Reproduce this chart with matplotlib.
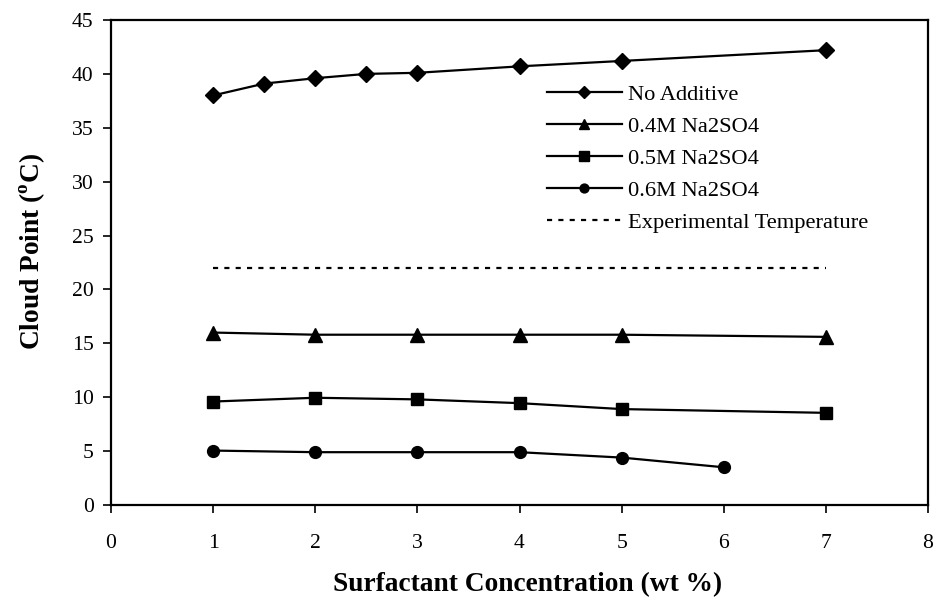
import matplotlib
matplotlib.use("Agg")
import matplotlib.pyplot as plt

plt.rcParams['font.family'] = ['Liberation Serif', 'DejaVu Serif']

# data
x_none = [1, 1.5, 2, 2.5, 3, 4, 5, 7]
y_none = [38.0, 39.1, 39.6, 40.0, 40.1, 40.7, 41.2, 42.2]

x_04 = [1, 2, 3, 4, 5, 7]
y_04 = [16.0, 15.8, 15.8, 15.8, 15.8, 15.6]

x_05 = [1, 2, 3, 4, 5, 7]
y_05 = [9.6, 9.95, 9.8, 9.45, 8.9, 8.55]

x_06 = [1, 2, 3, 4, 5, 6]
y_06 = [5.05, 4.9, 4.9, 4.9, 4.4, 3.5]

x_exp = [1, 7]
y_exp = [22, 22]

fig = plt.figure(figsize=(9.34, 6.04), dpi=100)
# axes box: left 111px, right 928px, top 20px, bottom 505px
ax = fig.add_axes([111 / 934, 1 - 505 / 604, 817 / 934, 485 / 604])

ax.plot(x_none, y_none, 'k-', marker='D', ms=8, lw=1.6, label='No Additive')
ax.plot(x_04, y_04, 'k-', marker='^', ms=9.5, lw=1.6, label='0.4M Na2SO4')
ax.plot(x_05, y_05, 'k-', marker='s', ms=9, lw=1.6, label='0.5M Na2SO4')
ax.plot(x_06, y_06, 'k-', marker='o', ms=8.5, lw=1.6, label='0.6M Na2SO4')
ax.plot(x_exp, y_exp, 'k', ls=(0, (2.3, 2.8)), lw=1.6, label='Experimental Temperature')

ax.set_xlim(0, 8)
ax.set_ylim(0, 45)
ax.set_xticks(range(0, 9))
ax.set_yticks(range(0, 46, 5))
ax.tick_params(direction='out', length=5.5, width=1.2, labelsize=15.6)
ax.tick_params(axis='x', pad=15.5)
ax.tick_params(axis='y', pad=7)
for s in ax.spines.values():
    s.set_linewidth(1.6)

ax.set_xlabel('Surfactant Concentration (wt %)', fontsize=19.7, fontweight='bold')
ax.set_ylabel('Cloud Point ($^{\\mathregular{o}}$C)', fontsize=19.7, fontweight='bold')
ax.xaxis.set_label_coords(0.51, -0.138)
ax.yaxis.set_label_coords(-0.078, 0.522)

ax.legend(loc='upper left', bbox_to_anchor=(0.534, 0.868), frameon=False,
          fontsize=16.2, handlelength=3.3, labelspacing=0.5, handletextpad=0.3,
          borderpad=0, borderaxespad=0, markerscale=0.75)

fig.savefig('out.png', dpi=100)
